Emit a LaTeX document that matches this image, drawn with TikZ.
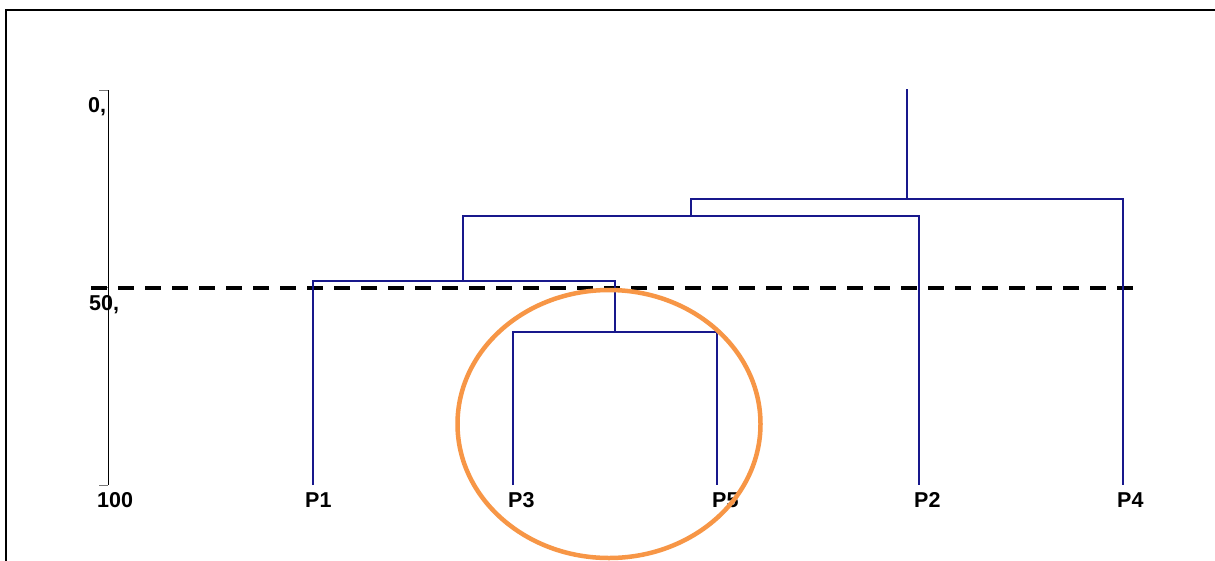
\documentclass[tikz,border=0pt]{standalone}
\usepackage{fontspec}
\setmainfont{Liberation Sans}
\usetikzlibrary{shapes.geometric}
\definecolor{treeblue}{RGB}{24,24,140}
\definecolor{ringorange}{RGB}{247,150,70}
\definecolor{tickgrey}{RGB}{120,120,120}
\begin{document}
\begin{tikzpicture}[x=1pt,y=-1pt,
  branch/.style={draw=treeblue,line width=1.6pt},
  axisline/.style={draw=black,line width=1pt},
  tick/.style={draw=tickgrey,line width=1pt},
  cutline/.style={draw=black,line width=3.5pt,dash pattern=on 16pt off 11pt},
  ring/.style={draw=ringorange,line width=4.5pt},
  leaflabel/.style={font=\bfseries\fontsize{21.5}{21.5}\selectfont,anchor=base west,inner sep=0pt},
  axislabel/.style={font=\bfseries\fontsize{21.5}{21.5}\selectfont,anchor=base west,inner sep=0pt}]
\useasboundingbox (0,0) rectangle (1215,560);
\fill[white] (0,0) rectangle (1215,560);

% outer frame (top and left edges)
\draw[line width=2pt] (6,562) -- (6,10) -- (1217,10);

% distance axis
\coordinate (ax0) at (108,90);
\coordinate (ax50) at (108,287);
\coordinate (ax100) at (108,485);
\coordinate (tk0) at (99,90);
\coordinate (tk50) at (98,287);
\coordinate (tk100) at (99,485);
\draw[axisline] (ax0) -- (ax100);
\draw[tick] (tk0) -- (ax0);
\draw[tick] (tk50) -- (ax50);
\draw[tick] (tk100) -- (ax100);
\node[axislabel] (lab0) at (88,112) {0,};
\node[axislabel] (lab50) at (89,310) {50,};
\node[axislabel] (lab100) at (97,507) {100};

% cut level
\coordinate (cutL) at (91,288);
\coordinate (cutR) at (1134,288);
\draw[cutline] (cutL) -- (cutR);

% leaves
\coordinate (l1) at (313,485);
\coordinate (l3) at (513,485);
\coordinate (l5) at (717,485);
\coordinate (l2) at (919,485);
\coordinate (l4) at (1123,485);
\node[leaflabel] (p1) at (305,507) {P1};
\node[leaflabel] (p3) at (508,507) {P3};
\node[leaflabel] (p5) at (712,507) {P5};
\node[leaflabel] (p2) at (914,507) {P2};
\node[leaflabel] (p4) at (1117,507) {P4};

% merge points
\coordinate (m35) at (615,332);
\coordinate (m135) at (463,281);
\coordinate (m1352) at (691,216);
\coordinate (root) at (907,199);
\coordinate (rtop) at (907,89);

% dendrogram
\draw[branch] (l3) |- (m35) -| (l5);
\draw[branch] (l1) |- (m135) -| (m35);
\draw[branch] (m135) |- (m1352) -| (l2);
\draw[branch] (m1352) |- (root) -| (l4);
\draw[branch] (root) -- (rtop);

% highlighted cluster
\node[ring,ellipse,minimum width=303pt,minimum height=268pt,inner sep=0pt] (cluster) at (609,424) {};
\end{tikzpicture}
\end{document}
